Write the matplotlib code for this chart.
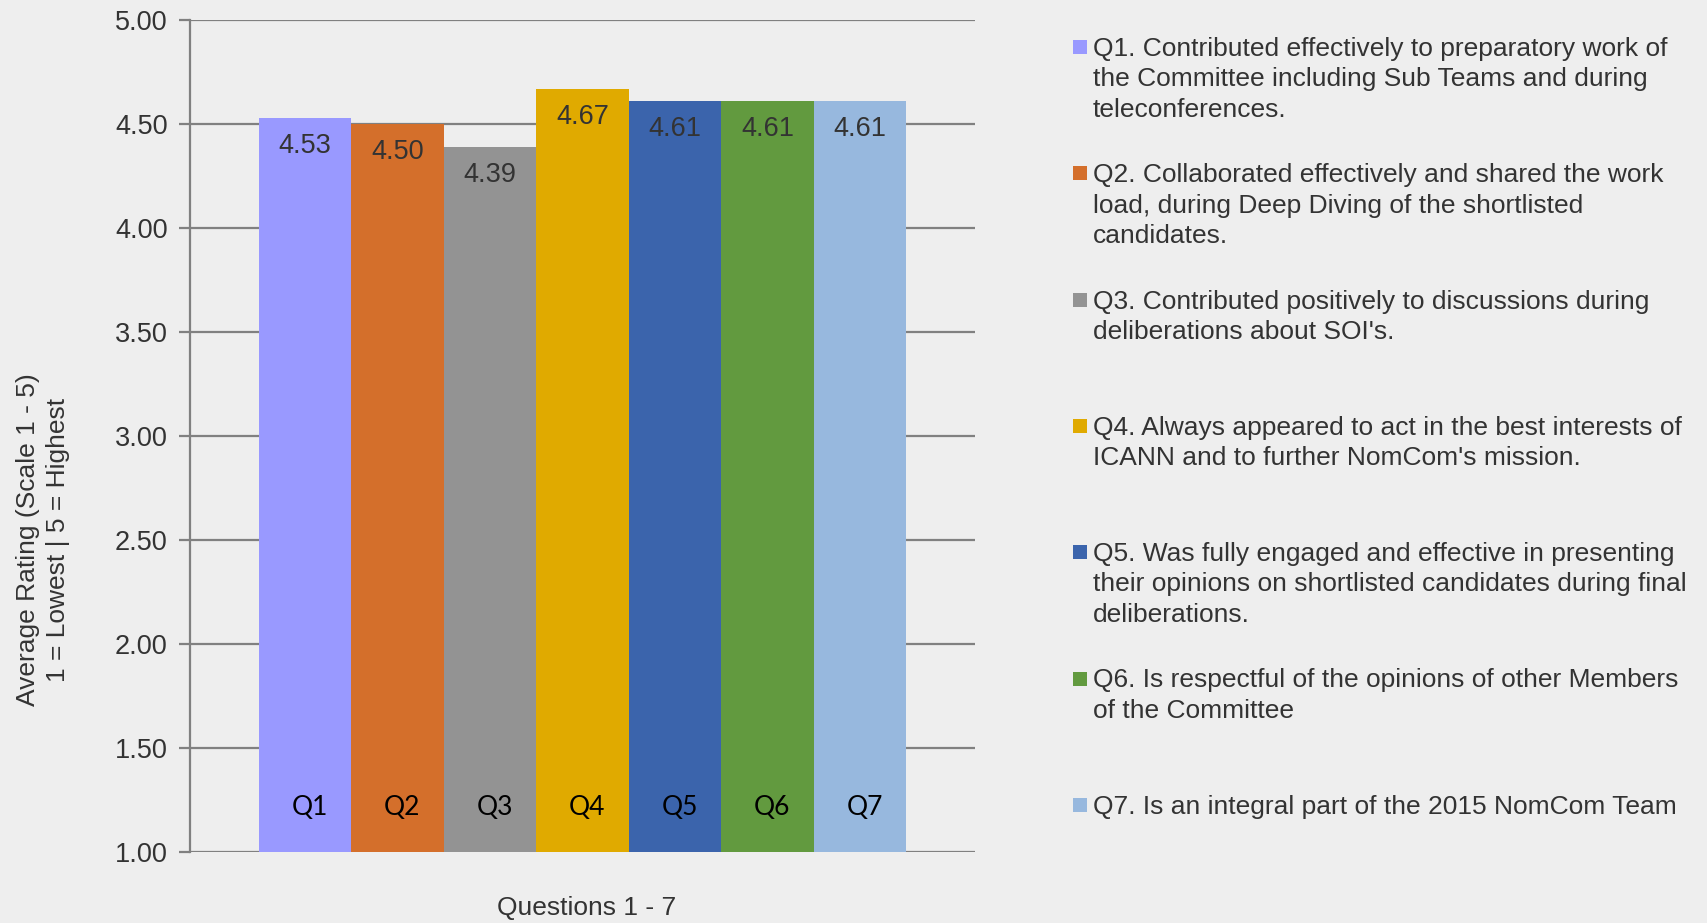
import matplotlib
matplotlib.use("Agg")
import matplotlib.pyplot as plt
from matplotlib.patches import Rectangle

categories = ["Q1", "Q2", "Q3", "Q4", "Q5", "Q6", "Q7"]
values = [4.53, 4.50, 4.39, 4.67, 4.61, 4.61, 4.61]
value_labels = ["4.53", "4.50", "4.39", "4.67", "4.61", "4.61", "4.61"]
colors = ["#9999FF", "#D46F2B", "#939393", "#E0AA00", "#3B64AC", "#629A3F", "#97B8DE"]
legend_texts = [
    "Q1. Contributed effectively to preparatory work of\nthe Committee including Sub Teams and during\nteleconferences.",
    "Q2. Collaborated effectively and shared the work\nload, during Deep Diving of the shortlisted\ncandidates.",
    "Q3. Contributed positively to discussions during\ndeliberations about SOI's.",
    "Q4. Always appeared to act in the best interests of\nICANN and to further NomCom's mission.",
    "Q5. Was fully engaged and effective in presenting\ntheir opinions on shortlisted candidates during final\ndeliberations.",
    "Q6. Is respectful of the opinions of other Members\nof the Committee",
    "Q7. Is an integral part of the 2015 NomCom Team",
]
yticks = [1.0, 1.5, 2.0, 2.5, 3.0, 3.5, 4.0, 4.5, 5.0]

W, H = 1708, 923
BG = "#EEEEEE"
TXT = "#333333"
plt.rcParams["font.family"] = ["Liberation Sans", "DejaVu Sans"]

fig = plt.figure(figsize=(W / 100, H / 100), dpi=100, facecolor=BG)
ax = fig.add_axes([190 / W, 1 - 852 / H, (975 - 190) / W, (852 - 20) / H], facecolor=BG)

x = list(range(len(categories)))
ax.bar(x, [v - 1.0 for v in values], bottom=1.0, width=1.0, color=colors, zorder=3)
ax.set_xlim(-1.246, 7.246)
ax.set_ylim(1.0, 5.0)
ax.set_yticks(yticks)
ax.set_yticklabels([f"{t:.2f}" for t in yticks], fontsize=19.5, color=TXT)
ax.yaxis.grid(True, color="#808080", linewidth=1.6, zorder=1)
ax.set_xticks([])
ax.tick_params(axis="y", length=8, width=1.6, color="#808080", pad=8)
for s in ["top", "right", "bottom"]:
    ax.spines[s].set_visible(False)
ax.spines["left"].set_color("#808080")
ax.spines["left"].set_linewidth(1.6)

for xi, v, lab, cat in zip(x, values, value_labels, categories):
    ax.annotate(lab, (xi, v), xytext=(0, -20.2), textcoords="offset points",
                ha="center", va="center", fontsize=19.5, color=TXT, zorder=4)
    ax.text(xi + 0.05, 1.215, cat, ha="center", va="center", fontsize=19,
            family=["Lato", "DejaVu Sans"], color="#000000", zorder=4)

fig.text(28 / W, 1 - 540 / H, "Average Rating (Scale 1 - 5)", rotation=90,
         ha="center", va="center", fontsize=19, color=TXT)
fig.text(58 / W, 1 - 540 / H, "1 = Lowest | 5 = Highest", rotation=90,
         ha="center", va="center", fontsize=19, color=TXT)
fig.text(587 / W, 1 - 908 / H, "Questions 1 - 7", ha="center", va="center",
         fontsize=19, color=TXT)

start, step = 47.0, 126.3
for i, (txt, c) in enumerate(zip(legend_texts, colors)):
    yc = start + i * step
    fig.patches.append(Rectangle((1073 / W, 1 - (yc + 7) / H), 14 / W, 14 / H,
                                 transform=fig.transFigure, facecolor=c, edgecolor="none"))
    fig.text(1093 / W, 1 - (yc - 10) / H, txt, ha="left", va="top",
             fontsize=19, color=TXT, linespacing=1.33)

fig.savefig("out.png", dpi=100, facecolor=BG)
